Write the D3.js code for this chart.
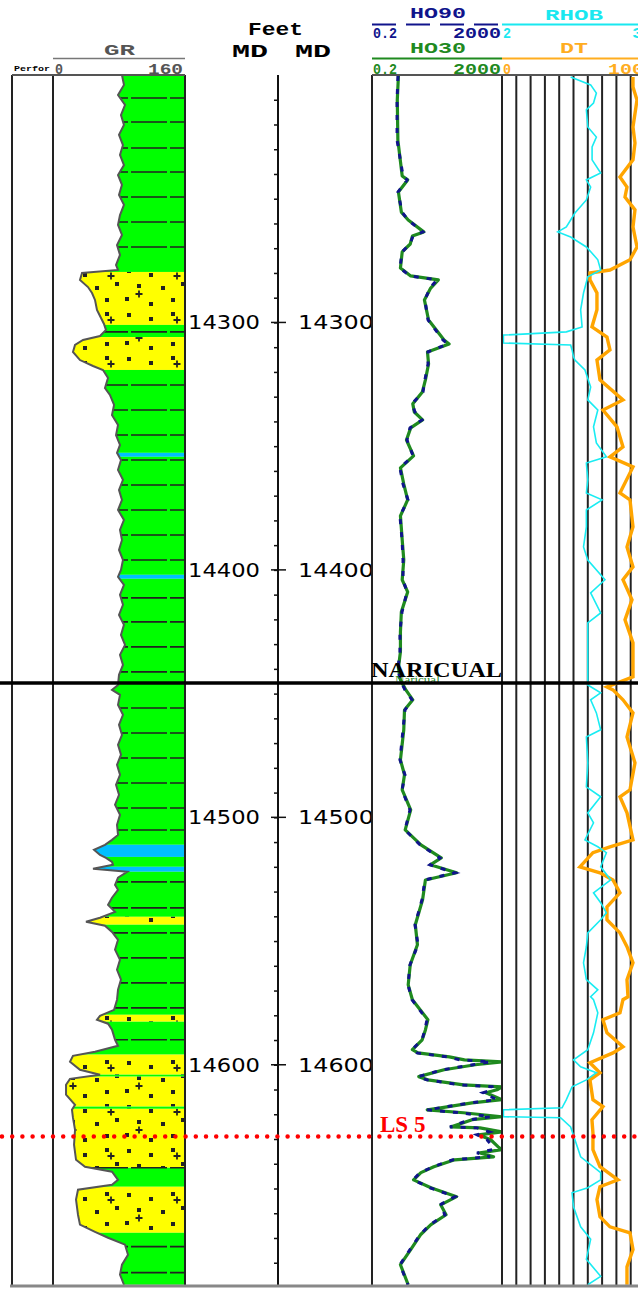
<!DOCTYPE html>
<html>
<head>
<meta charset="utf-8">
<script src="https://cdn.jsdelivr.net/npm/d3@7"></script>
<style>
  body { margin: 0; background: #fff; }
  svg { display: block; }
</style>
</head>
<body>
<svg id="chart" width="638" height="1289"></svg>
<script>
// ---- Data (depth in feet MD) ----
const depthRange = [14200, 14689];
const depthLabels = [14300, 14400, 14500, 14600];

// GR (API)
const grDepth = [
  14200, 14204, 14208.1, 14212.1, 14216.2, 14220.2, 14224.2, 14228.3, 14232.3, 14236.4,
  14240.4, 14244.4, 14248.5, 14252.5, 14256.6, 14260.6, 14264.6, 14268.7, 14272.7, 14276.8,
  14278.8, 14280, 14282.8, 14285.7, 14288.1, 14290.9, 14294.9, 14298.2, 14300.6, 14303,
  14305.5, 14307.1, 14309.1, 14311.9, 14315.2, 14317.6, 14319.2, 14322.4, 14326.5, 14329.3,
  14333.3, 14337.4, 14341.4, 14345.5, 14349.5, 14352.7, 14355.6, 14359.6, 14363.6, 14367.7,
  14371.7, 14375.8, 14379.8, 14383.8, 14387.9, 14391.9, 14396, 14400, 14402.8, 14406.1,
  14410.1, 14414.1, 14418.2, 14422.2, 14426.3, 14430.3, 14434.3, 14438.4, 14442.4, 14446.5,
  14448.5, 14450.5, 14454.5, 14458.6, 14462.6, 14466.7, 14470.7, 14474.7, 14478.8, 14482.8,
  14486.9, 14490.9, 14494.9, 14499, 14503, 14507.1, 14509.1, 14511.1, 14513.1, 14515.2,
  14516.4, 14518, 14519.2, 14520.8, 14522, 14524.4, 14527.3, 14529.3, 14532.5, 14535.4,
  14538.2, 14540.6, 14542.2, 14543.8, 14546.3, 14549.5, 14553.5, 14557.6, 14561.6, 14565.6,
  14569.7, 14573.7, 14577.8, 14580.2, 14581.8, 14583.4, 14585.8, 14589.9, 14592.3, 14594.7,
  14596.4, 14598.8, 14602, 14604, 14605.7, 14608.1, 14612.1, 14616.2, 14618.2, 14621.4,
  14626.3, 14632.3, 14638.4, 14641.2, 14643.2, 14646.5, 14648.5, 14650.5, 14654.5, 14660.6,
  14664.6, 14667.5, 14669.9, 14672.7, 14676.8, 14680.8, 14684.8, 14688.9
];
const grApi = [
  83.6, 86, 78.8, 87.3, 82.4, 86, 80, 84.8, 81.2, 86,
  78.8, 83.6, 80, 86, 81.2, 78.8, 83.6, 77.6, 81.2, 76.4,
  78.8, 35.2, 32.7, 42.4, 47.3, 50.9, 53.3, 58.2, 61.8, 64.2,
  57, 36.4, 26.7, 24.2, 32.7, 48.5, 60.6, 66.7, 63, 69,
  74, 71.5, 78.8, 76.4, 81.2, 77.6, 82.4, 78.8, 84.8, 80,
  83.6, 78.8, 86, 81.2, 83.6, 80, 84.8, 82.4, 78.8, 86,
  81.2, 84.8, 80, 86, 82.4, 87.3, 81.2, 84.8, 80, 78.8,
  71.5, 81.2, 78.8, 84.8, 80, 83.6, 78.8, 82.4, 77.6, 81.2,
  76.4, 80, 75.2, 81.2, 77.6, 78.8, 71.5, 63, 49.7, 57,
  64.2, 71.5, 72.7, 48.5, 90, 78.8, 75.2, 78.8, 71.5, 66.7,
  75.2, 57, 40, 63, 71.5, 78.8, 75.2, 81.2, 77.6, 82.4,
  78.8, 77.6, 74, 57, 53.3, 66.7, 71.5, 75.2, 78.8, 50.9,
  24.2, 20.6, 32.7, 57, 20.6, 15.8, 15.8, 26.7, 23, 24.2,
  26.7, 25.5, 27.9, 38.8, 71.5, 78.8, 71.5, 30.3, 27.9, 30.3,
  32.7, 50.9, 66.7, 87.3, 90.9, 83.6, 81.2, 86
];

// Lithology column
const lithTop  = [14200, 14279.6, 14301.0, 14305.9, 14319.2, 14352.7, 14354.3, 14402.0, 14403.6, 14511.1, 14516.0, 14520.0, 14522.0, 14540.2, 14543.4, 14579.8, 14582.6, 14595.9, 14604.0, 14604.8, 14616.9, 14617.8, 14641.6, 14649.3, 14667.9];
const lithBase = [14279.6, 14301.0, 14305.9, 14319.2, 14352.7, 14354.3, 14402.0, 14403.6, 14511.1, 14516.0, 14520.0, 14522.0, 14540.2, 14543.4, 14579.8, 14582.6, 14595.9, 14604.0, 14604.8, 14616.9, 14617.8, 14641.6, 14649.3, 14667.9, 14689];
const lithType = ["shale", "sand", "shale", "sand", "shale", "lime", "shale", "lime", "shale", "lime", "shale", "lime", "shale", "sand", "shale", "sand", "shale", "sand", "shale", "sand", "shale", "sand", "shale", "sand", "shale"];
const bedLines = [14209.3, 14219.0, 14229.5, 14239.2, 14249.3, 14259.4, 14269.5, 14303.8, 14325.3, 14335.4, 14345.5, 14355.6, 14365.7, 14375.8, 14385.9, 14396.0, 14411.3, 14421.0, 14431.1, 14441.2, 14455.8, 14465.9, 14476.0, 14486.1, 14496.2, 14505.1, 14526.1, 14536.6, 14546.7, 14556.8, 14566.9, 14577.0, 14589.9, 14641.6, 14673.5, 14684.0];

// Resistivity (ohm.m)
const resDepth = [
  14200.4, 14210.1, 14226.3, 14240.8, 14242.4, 14247.3, 14255.4, 14258.6, 14263.4, 14265.1,
  14268.3, 14271.5, 14278, 14281.2, 14282.8, 14286.1, 14290.9, 14299, 14307.1, 14308.7,
  14311.9, 14316.8, 14323.2, 14328.1, 14332.9, 14336.2, 14339.4, 14342.6, 14347.5, 14353.9,
  14358.8, 14365.3, 14371.7, 14378.2, 14387.9, 14396, 14404, 14408.9, 14417, 14425.1,
  14433.1, 14439.6, 14444.4, 14448.5, 14452.5, 14456.6, 14464.6, 14476.8, 14482.8, 14488.9,
  14497, 14505.1, 14511.1, 14516.4, 14519.2, 14522.4, 14525.3, 14533.3, 14543.4, 14551.5,
  14559.6, 14567.7, 14573.7, 14581.8, 14585.9, 14589.9, 14593.9, 14595.2, 14596.8, 14598,
  14598.8, 14600, 14602, 14604.8, 14606.1, 14608.1, 14608.9, 14610.1, 14611.3, 14614.1,
  14615.4, 14617.4, 14618.2, 14619.4, 14621, 14622.2, 14625.1, 14625.5, 14627.1, 14628.3,
  14630.3, 14633.1, 14634.3, 14635.6, 14637.2, 14638.4, 14641.2, 14643.6, 14646.5, 14649.7,
  14653.3, 14656.6, 14660.6, 14664.6, 14668.7, 14674.7, 14680.8, 14688.9
];
const ho90 = [
  1.26, 1.18, 1.18, 1.80, 2.39, 1.26, 1.68, 2.56, 7.4, 3.66,
  2.95, 1.68, 1.45, 2.95, 20, 12.2, 8.5, 10.6, 30.6, 43.6,
  10.6, 10.6, 8.5, 7.4, 3.40, 4.21, 6.9, 2.95, 2.39, 3.66,
  1.45, 1.80, 2.56, 1.45, 1.68, 1.80, 1.80, 2.39, 1.68, 1.45,
  1.45, 1.26, 1.45, 2.07, 3.40, 2.07, 1.80, 1.45, 2.07, 1.68,
  2.95, 2.07, 6.0, 24.7, 12.2, 71.6, 8.5, 6.9, 4.21, 5.2,
  2.95, 2.56, 3.40, 9.8, 8.5, 6.9, 3.40, 4.85, 40.6, 102,
  900, 256, 30.6, 5.2, 9.8, 102, 1000, 1057, 520, 1403,
  207, 24.7, 9.8, 102, 900, 207, 50, 340, 800, 340,
  690, 1057, 1000, 340, 855, 62, 15.1, 6.0, 3.66, 12.2,
  71.6, 24.7, 35.2, 12.2, 6.0, 2.95, 1.45, 2.56
];
const ho30 = [
  1.3, 1.2, 1.25, 1.7, 2.5, 1.3, 1.6, 2.6, 7.8, 3.5,
  3.0, 1.7, 1.5, 3.1, 22, 12.8, 8.2, 11, 33, 47,
  10.2, 11, 8.8, 7.1, 3.6, 4.0, 7.2, 3.1, 2.3, 3.8,
  1.5, 1.9, 2.5, 1.5, 1.7, 1.9, 1.7, 2.5, 1.6, 1.5,
  1.5, 1.3, 1.5, 2.2, 3.6, 2.0, 1.9, 1.5, 2.0, 1.7,
  3.1, 2.1, 6.4, 27, 12.5, 80, 8.8, 7.2, 4.3, 5.0,
  3.0, 2.6, 3.5, 10.5, 8.8, 7.0, 3.5, 5.2, 48, 140,
  2000, 300, 33, 5.5, 10.5, 130, 2000, 1400, 640, 2000,
  240, 26, 10, 130, 2000, 240, 55, 420, 2000, 380,
  900, 1500, 2000, 420, 1100, 70, 16, 6.4, 3.8, 13,
  80, 26, 38, 13, 6.2, 3.1, 1.5, 2.6
];

// Bulk density (g/cc)
const rhobDepth = [
  14200.8, 14204, 14207.3, 14211.3, 14214.1, 14221, 14225.1, 14229.1, 14234.3, 14239.6,
  14242.4, 14245.3, 14250.5, 14255.8, 14258.6, 14261.4, 14263.4, 14265.5, 14269.5, 14272,
  14274.7, 14278.8, 14281.6, 14288.1, 14294.9, 14301.8, 14303.8, 14305.1, 14308.3, 14309.1,
  14311.1, 14313.9, 14315.2, 14319.2, 14326.1, 14331.3, 14335.4, 14342.2, 14348.7, 14354.3,
  14356.8, 14363.6, 14368.9, 14371.7, 14375.8, 14382.6, 14390.7, 14396, 14404, 14409.3,
  14417.4, 14421.4, 14429.5, 14436.4, 14443.2, 14446.5, 14449.7, 14452.5, 14457.8, 14464.6,
  14467.5, 14478, 14487.7, 14491.7, 14498.2, 14502.2, 14509.1, 14511.9, 14514.3, 14520,
  14525.3, 14530.5, 14534.5, 14538.6, 14541.4, 14546.7, 14552.3, 14558.8, 14565.6, 14569.7,
  14572.5, 14573.7, 14579, 14587.1, 14593.9, 14598, 14600.8, 14603.2, 14606.1, 14608.9,
  14614.1, 14617.4, 14618.2, 14621, 14621.4, 14625.1, 14630.3, 14637.2, 14643.6, 14646.5,
  14649.7, 14651.7, 14657.4, 14665.5, 14670.5, 14678.6, 14685.5, 14688.9
];
const rhob = [
  2.48, 2.62, 2.66, 2.64, 2.59, 2.60, 2.66, 2.63, 2.63, 2.69,
  2.59, 2.62, 2.59, 2.51, 2.48, 2.45, 2.39, 2.48, 2.59, 2.63,
  2.67, 2.69, 2.60, 2.57, 2.55, 2.56, 2.45, 2.01, 2.01, 2.48,
  2.49, 2.50, 2.51, 2.58, 2.62, 2.60, 2.67, 2.64, 2.66, 2.73,
  2.59, 2.60, 2.59, 2.70, 2.59, 2.59, 2.57, 2.60, 2.72, 2.62,
  2.69, 2.60, 2.60, 2.60, 2.60, 2.60, 2.69, 2.62, 2.66, 2.69,
  2.59, 2.60, 2.59, 2.69, 2.60, 2.64, 2.58, 2.67, 2.73, 2.69,
  2.76, 2.64, 2.69, 2.73, 2.69, 2.60, 2.59, 2.57, 2.59, 2.67,
  2.62, 2.64, 2.67, 2.64, 2.60, 2.50, 2.55, 2.66, 2.59, 2.49,
  2.45, 2.42, 2.01, 2.01, 2.41, 2.48, 2.51, 2.55, 2.69, 2.69,
  2.60, 2.49, 2.50, 2.55, 2.62, 2.59, 2.69, 2.60
];

// Sonic (us/ft)
const dtDepth = [
  14200.8, 14204.8, 14210.1, 14221, 14227.5, 14234.3, 14241.2, 14245.3, 14249.3, 14254.5,
  14261.4, 14269.5, 14274.7, 14278.8, 14280, 14282.8, 14288.1, 14294.9, 14301.8, 14305.9,
  14311.1, 14315.2, 14323.2, 14331.3, 14335.4, 14342.2, 14350.3, 14354.3, 14358.4, 14368.9,
  14371.7, 14382.6, 14390.7, 14398.8, 14404, 14412.1, 14420.2, 14429.5, 14443.2, 14447.3,
  14448.5, 14452.5, 14457.8, 14467.5, 14478, 14488.9, 14491.7, 14498.2, 14509.1, 14511.9,
  14514.3, 14520, 14522.4, 14525.3, 14530.5, 14536.2, 14541.4, 14546.7, 14552.3, 14558.8,
  14565.6, 14572.5, 14573.7, 14579, 14581.8, 14587.1, 14592.7, 14595.2, 14599.2, 14603.2,
  14606.1, 14614.1, 14616.9, 14622.2, 14627.5, 14634.3, 14641.2, 14646.5, 14649.3, 14654.5,
  14661.4, 14665.5, 14667.9, 14674.7, 14681.6, 14688.9
];
const dt = [
  91.6, 91.6, 94.4, 91.6, 93.0, 91.6, 82.5, 87.4, 86.0, 93.0,
  91.6, 94.4, 89.5, 75.5, 61.5, 61.5, 66.4, 66.4, 62.9, 73.4,
  75.5, 66.4, 68.5, 84.6, 70.6, 80.4, 84.6, 75.5, 91.6, 82.5,
  89.5, 91.6, 87.4, 91.6, 84.6, 90.9, 86.0, 91.6, 91.6, 73.4,
  77.6, 84.6, 91.6, 87.4, 93.0, 89.5, 82.5, 87.4, 91.6, 75.5,
  63.6, 54.5, 68.5, 77.6, 82.5, 73.4, 73.4, 82.5, 87.4, 91.6,
  87.4, 88.1, 84.6, 82.5, 70.6, 73.4, 84.6, 77.6, 61.5, 68.5,
  61.5, 63.6, 70.6, 62.9, 63.6, 63.6, 68.5, 81.1, 68.5, 66.4,
  68.5, 75.5, 89.5, 91.6, 87.4, 87.4
];

// Markers
const formationTops = [{ name: "NARICUAL", label: "Naricual", depth: 14445.7 }];
const markers = [{ name: "LS 5", depth: 14629 }];

[[grDepth, grApi], [resDepth, ho90], [resDepth, ho30], [rhobDepth, rhob], [dtDepth, dt], [lithTop, lithBase], [lithTop, lithType]]
  .forEach(([a, b], i) => { if (a.length !== b.length) throw new Error("length mismatch " + i + ": " + a.length + " vs " + b.length); });

// ---- Layout ----
const plotTop = 75, plotBottom = 1285;
const svg = d3.select("#chart");
const monoFont = "'Liberation Mono', 'DejaVu Sans Mono', monospace";

const y = d3.scaleLinear().domain(depthRange).range([plotTop, plotBottom]);
const xGR = d3.scaleLinear().domain([0, 160]).range([53, 185]);
const xRes = d3.scaleLog().domain([0.2, 2000]).range([372, 502]).clamp(true);
const xRhob = d3.scaleLinear().domain([2, 3]).range([502, 645]);
const xDt = d3.scaleLinear().domain([0, 100]).range([502, 645]);

const zip = (d, v) => d.map((dep, i) => ({ depth: dep, value: v[i] }));
const grData = zip(grDepth, grApi);

const defs = svg.append("defs");
const sand = defs.append("pattern")
  .attr("id", "sandPat")
  .attr("patternUnits", "userSpaceOnUse")
  .attr("width", 66).attr("height", 44)
  .attr("x", 53).attr("y", 0);
sand.append("rect").attr("width", 66).attr("height", 44).attr("fill", "#ffff00");
[[8, 5], [30, 9], [52, 4], [18, 20], [42, 22], [62, 18], [6, 33], [30, 38], [52, 34]].forEach(([px, py]) =>
  sand.append("rect").attr("x", px).attr("y", py).attr("width", 4).attr("height", 4).attr("fill", "#222"));
[[20, 30], [58, 12]].forEach(([px, py]) =>
  sand.append("path").attr("d", `M${px - 3.5},${py}h7M${px},${py - 3.5}v7`)
    .attr("stroke", "#222").attr("stroke-width", 1.8));

defs.append("clipPath").attr("id", "grClip")
  .append("path")
  .datum(grData)
  .attr("d", d3.area().y(d => y(d.depth)).x0(d => xGR(d.value)).x1(xGR(160)));
defs.append("clipPath").attr("id", "rightClip")
  .append("rect").attr("x", 502).attr("y", plotTop).attr("width", 136).attr("height", plotBottom - plotTop);
defs.append("clipPath").attr("id", "resClip")
  .append("rect").attr("x", 372).attr("y", plotTop).attr("width", 130).attr("height", plotBottom - plotTop);

// ---- Headers ----
const header = svg.append("g").attr("font-family", monoFont).attr("font-weight", "bold");
const headText = (x, yy, str, color, size, len, anchor) => header.append("text")
  .attr("x", x).attr("y", yy).attr("fill", color).attr("font-size", size)
  .attr("text-anchor", anchor || "start")
  .attr("textLength", len).attr("lengthAdjust", "spacingAndGlyphs")
  .text(str);

headText(104, 55, "GR", "#555", 14, 31);
header.append("line").attr("x1", 53).attr("x2", 185).attr("y1", 58.5).attr("y2", 58.5)
  .attr("stroke", "#777").attr("stroke-width", 1.5);
headText(55, 74, "0", "#555", 15, 8);
headText(148, 74, "160", "#555", 15, 35);
headText(14, 71, "Perfor", "#000", 8, 36);

headText(248, 35, "Feet", "#000", 18, 55);
headText(232, 57, "MD", "#000", 18, 36);
headText(295, 57, "MD", "#000", 18, 36);

const curveHeaders = [
  { name: "HO90", color: "#10148c", x0: 372, x1: 502, nx: 410, nLen: 56, ty: 18, ly: 24.5, sy: 38, lo: "0.2", hi: "2000", dash: "24,10" },
  { name: "HO30", color: "#1f8a1f", x0: 372, x1: 502, nx: 410, nLen: 56, ty: 53, ly: 58.5, sy: 74, lo: "0.2", hi: "2000", dash: null },
  { name: "RHOB", color: "#19e8f0", x0: 502, x1: 645, nx: 545, nLen: 58, ty: 20, ly: 24.5, sy: 38, lo: "2", hi: "3", dash: null },
  { name: "DT", color: "#ffad1f", x0: 502, x1: 645, nx: 560, nLen: 28, ty: 53, ly: 58.5, sy: 74, lo: "0", hi: "100", dash: null }
];
curveHeaders.forEach(h => {
  headText(h.nx, h.ty, h.name, h.color, 14, h.nLen);
  header.append("line").attr("x1", h.x0).attr("x2", h.x1).attr("y1", h.ly).attr("y2", h.ly)
    .attr("stroke", h.color).attr("stroke-width", 2).attr("stroke-dasharray", h.dash);
  headText(h.x0 + 1, h.sy, h.lo, h.color, 14, h.lo.length * 8);
  headText(h.x1 - 1, h.sy, h.hi, h.color, 14, h.hi.length * 12, "end");
});

// ---- Lithology / GR track ----
const lith = svg.append("g").attr("clip-path", "url(#grClip)");
const lithFill = { shale: "#00ff00", sand: "url(#sandPat)", lime: "#00bfff" };
lithTop.forEach((t, i) => {
  lith.append("rect")
    .attr("x", 53).attr("width", 132)
    .attr("y", y(t)).attr("height", y(lithBase[i]) - y(t))
    .attr("fill", lithFill[lithType[i]]);
});
lith.selectAll("line.bed")
  .data(bedLines)
  .join("line")
  .attr("class", "bed")
  .attr("x1", 53).attr("x2", 185)
  .attr("y1", d => y(d)).attr("y2", d => y(d))
  .attr("stroke", "#222").attr("stroke-width", 1.6)
  .attr("stroke-dasharray", "36,3");

svg.append("path")
  .datum(grData)
  .attr("fill", "none")
  .attr("stroke", "#555")
  .attr("stroke-width", 2)
  .attr("d", d3.line().y(d => y(d.depth)).x(d => xGR(d.value)));

// ---- Depth track ----
const depthG = svg.append("g");
depthG.append("line").attr("x1", 278).attr("x2", 278).attr("y1", plotTop).attr("y2", plotBottom)
  .attr("stroke", "#111").attr("stroke-width", 2);
depthG.append("g")
  .attr("transform", "translate(278,0)")
  .call(d3.axisLeft(y).tickValues(d3.range(14210, 14689, 10)).tickSize(4).tickFormat(""))
  .call(g => g.select(".domain").remove())
  .call(g => g.selectAll(".tick line").attr("stroke", "#111").attr("stroke-width", 1.5));
depthLabels.forEach(d => {
  depthG.append("text").attr("x", 188).attr("y", y(d) + 7)
    .attr("font-family", "'DejaVu Sans', sans-serif").attr("font-size", 19)
    .attr("textLength", 72).attr("lengthAdjust", "spacingAndGlyphs").text(d);
  depthG.append("line").attr("x1", 271).attr("x2", 286).attr("y1", y(d)).attr("y2", y(d))
    .attr("stroke", "#111").attr("stroke-width", 1.5);
  depthG.append("text").attr("x", 298).attr("y", y(d) + 7)
    .attr("font-family", "'DejaVu Sans', sans-serif").attr("font-size", 19)
    .attr("textLength", 76).attr("lengthAdjust", "spacingAndGlyphs").text(d);
});

// ---- Resistivity track ----
svg.append("rect").attr("x", 372).attr("y", plotTop).attr("width", 130).attr("height", plotBottom - plotTop).attr("fill", "#fff");
const resG = svg.append("g").attr("clip-path", "url(#resClip)");
resG.append("path")
  .datum(zip(resDepth, ho30))
  .attr("fill", "none").attr("stroke", "#1f8a1f").attr("stroke-width", 3.2)
  .attr("stroke-linejoin", "round")
  .attr("d", d3.line().y(d => y(d.depth)).x(d => xRes(d.value)));
resG.append("path")
  .datum(zip(resDepth, ho90))
  .attr("fill", "none").attr("stroke", "#10148c").attr("stroke-width", 3)
  .attr("stroke-dasharray", "5,8")
  .attr("d", d3.line().y(d => y(d.depth)).x(d => xRes(d.value)));

// ---- Density / sonic track ----
const rightG = svg.append("g").attr("clip-path", "url(#rightClip)");
rightG.selectAll("line.grid")
  .data(xRhob.ticks(10))
  .join("line")
  .attr("class", "grid")
  .attr("x1", d => xRhob(d)).attr("x2", d => xRhob(d))
  .attr("y1", plotTop).attr("y2", plotBottom)
  .attr("stroke", "#222").attr("stroke-width", 2);
rightG.append("path")
  .datum(zip(dtDepth, dt))
  .attr("fill", "none").attr("stroke", "#ffa500").attr("stroke-width", 3.4)
  .attr("d", d3.line().y(d => y(d.depth)).x(d => xDt(d.value)));
rightG.append("path")
  .datum(zip(rhobDepth, rhob))
  .attr("fill", "none").attr("stroke", "#19ecf2").attr("stroke-width", 1.6)
  .attr("d", d3.line().y(d => y(d.depth)).x(d => xRhob(d.value)));

// ---- Track borders ----
const borders = svg.append("g").attr("fill", "none").attr("stroke", "#222").attr("stroke-width", 2);
[12, 53, 185, 372, 502].forEach(x =>
  borders.append("line").attr("x1", x).attr("x2", x).attr("y1", plotTop).attr("y2", plotBottom));
[[12, 185], [372, 638]].forEach(([a, b]) => {
  borders.append("line").attr("x1", a).attr("x2", b).attr("y1", plotTop).attr("y2", plotTop).attr("stroke", "#555");
});
borders.append("line").attr("x1", 10).attr("x2", 638).attr("y1", plotBottom + 1).attr("y2", plotBottom + 1)
  .attr("stroke", "#888").attr("stroke-width", 3);

// ---- Formation tops and markers ----
formationTops.forEach(t => {
  svg.append("text").attr("x", 395).attr("y", y(t.depth) + 1)
    .attr("font-family", "'Liberation Serif', serif").attr("font-size", 13)
    .attr("fill", "#1f8a1f").text(t.label);
  svg.append("line").attr("x1", 0).attr("x2", 638).attr("y1", y(t.depth)).attr("y2", y(t.depth))
    .attr("stroke", "#000").attr("stroke-width", 3.5);
  svg.append("text").attr("x", 371).attr("y", y(t.depth) - 6)
    .attr("font-family", "'Liberation Serif', serif").attr("font-weight", "bold").attr("font-size", 21)
    .attr("textLength", 131).attr("lengthAdjust", "spacingAndGlyphs")
    .attr("fill", "#000").text(t.name);
});
markers.forEach(m => {
  svg.append("line").attr("x1", 2).attr("x2", 638).attr("y1", y(m.depth)).attr("y2", y(m.depth))
    .attr("stroke", "#ff0000").attr("stroke-width", 4.5)
    .attr("stroke-linecap", "round").attr("stroke-dasharray", "0,10.2");
  svg.append("text").attr("x", 380).attr("y", y(m.depth) - 5)
    .attr("font-family", "'Liberation Serif', serif").attr("font-weight", "bold").attr("font-size", 23)
    .attr("fill", "#ff0000").text(m.name);
});
</script>
</body>
</html>
